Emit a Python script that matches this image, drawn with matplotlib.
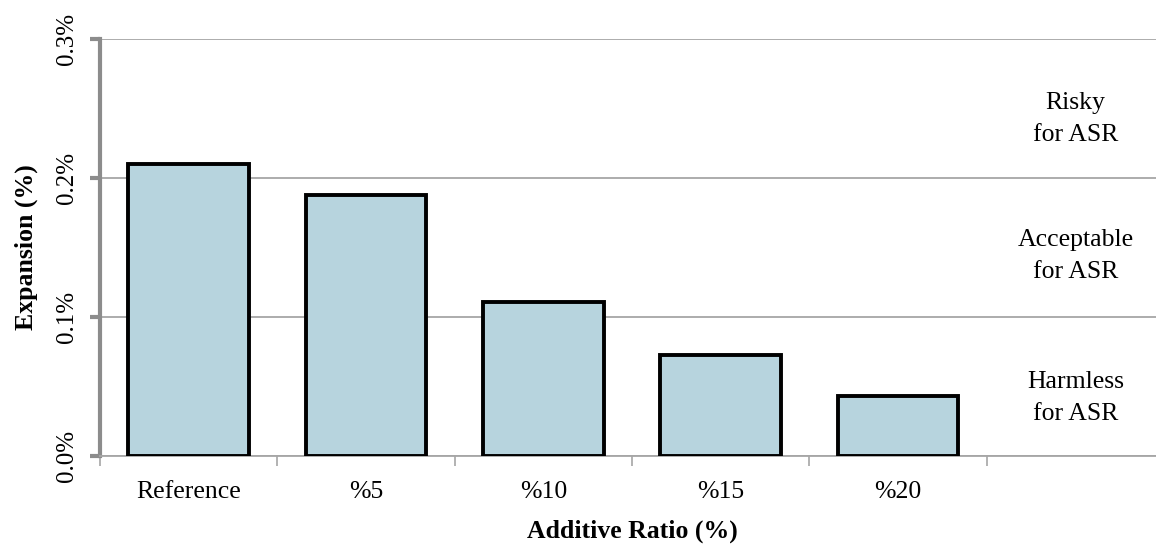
import matplotlib
matplotlib.use("Agg")
import matplotlib.pyplot as plt
from matplotlib.ticker import FuncFormatter, FixedLocator

plt.rcParams['font.family'] = ['Liberation Serif', 'DejaVu Serif']

categories = ["Reference", "%5", "%10", "%15", "%20", ""]
expansion = [0.210, 0.188, 0.111, 0.073, 0.043]          # expansion in %
zone_labels = ["Risky\nfor ASR", "Acceptable\nfor ASR", "Harmless\nfor ASR"]
zone_y = [0.2425, 0.144, 0.0416]                          # label centres in %

fig = plt.figure(figsize=(11.56, 5.45), dpi=100)
ax = fig.add_axes([100 / 1156, 1 - 456 / 545, 1064 / 1156, 417 / 545])

x = list(range(len(expansion)))
ax.bar(x, expansion, width=0.68, color="#b7d4de", edgecolor="black",
       linewidth=2.8, zorder=3)

ax.set_xlim(-0.5, len(categories) - 0.5)
ax.set_ylim(0, 0.3)

ax.set_yticks([0.0, 0.1, 0.2, 0.3])
ax.yaxis.set_major_formatter(FuncFormatter(lambda v, p: f"{v:.1f}%"))
ax.grid(axis="y", color="#a6a6a6", linewidth=1.3, zorder=0)

ax.set_xticks(x + [5])
ax.set_xticklabels(categories)
ax.xaxis.set_minor_locator(FixedLocator([i - 0.5 for i in range(len(categories) + 1)]))
ax.tick_params(axis="x", which="major", length=0, pad=18, labelsize=18.5)
ax.tick_params(axis="x", which="minor", length=7, width=1.2, color="#a6a6a6")
ax.tick_params(axis="y", which="major", length=7, width=3, color="#8c8c8c",
               labelsize=18, labelrotation=90, pad=9)
for lbl in ax.get_yticklabels():
    lbl.set_verticalalignment("center")

for side in ("top", "right"):
    ax.spines[side].set_visible(False)
ax.spines["left"].set_color("#8c8c8c")
ax.spines["left"].set_linewidth(3)
ax.spines["bottom"].set_color("#a6a6a6")
ax.spines["bottom"].set_linewidth(1.3)

ax.set_xlabel("Additive Ratio (%)", fontsize=18.5, fontweight="bold", labelpad=12)
ax.set_ylabel("Expansion (%)", fontsize=18.5, fontweight="bold", labelpad=13)

for txt, yv in zip(zone_labels, zone_y):
    ax.text(5.0, yv, txt, ha="center", va="center", fontsize=18.5,
            linespacing=1.6, zorder=4)

fig.savefig("out.png", dpi=100)
